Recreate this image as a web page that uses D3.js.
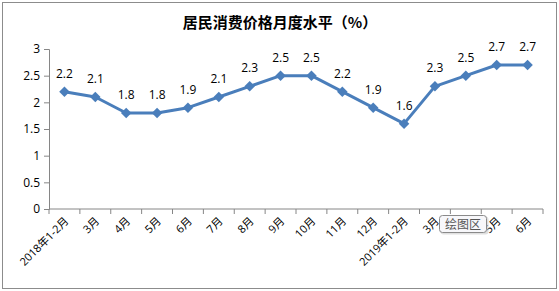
<!DOCTYPE html>
<html>
<head>
<meta charset="utf-8">
<script src="https://cdn.jsdelivr.net/npm/d3@7"></script>
<style>
  body { margin: 0; background: #fff; }
  text { font-family: "Open Sans", "Noto Sans CJK SC", sans-serif; }
</style>
</head>
<body>
<div id="chart"></div>
<script>
// data
var months = ["2018年1-2月", "3月", "4月", "5月", "6月", "7月", "8月", "9月", "10月",
              "11月", "12月", "2019年1-2月", "3月", "4月", "5月", "6月"];
var values = [2.2, 2.1, 1.8, 1.8, 1.9, 2.1, 2.3, 2.5, 2.5, 2.2, 1.9, 1.6, 2.3, 2.5, 2.7, 2.7];
var yTicks = [0, 0.5, 1, 1.5, 2, 2.5, 3];

var W = 559, H = 291;
var margin = {top: 49, right: 16, bottom: 82, left: 49},
    width = W - margin.left - margin.right,
    height = H - margin.top - margin.bottom;

var svg = d3.select("#chart").append("svg")
    .attr("width", W)
    .attr("height", H);

// outer frame
svg.append("rect")
    .attr("x", 2.5).attr("y", 2.5)
    .attr("width", W - 5).attr("height", H - 5)
    .attr("fill", "#fff")
    .attr("stroke", "#8c8c8c");

svg.append("text")
    .attr("x", 280).attr("y", 28)
    .attr("text-anchor", "middle")
    .style("font-family", "'Noto Sans CJK SC', sans-serif")
    .style("font-size", "15px")
    .style("font-weight", "bold")
    .text("居民消费价格月度水平（%）");

var g = svg.append("g")
    .attr("transform", "translate(" + margin.left + "," + margin.top + ")");

// index based band scale so repeated month names stay separate
var x = d3.scaleBand()
    .domain(d3.range(months.length))
    .range([0, width]);

var y = d3.scaleLinear()
    .domain([0, 3])
    .range([height, 0]);

// y axis
var yAxis = g.append("g")
    .call(d3.axisLeft(y).tickValues(yTicks).tickSize(5).tickPadding(4).tickFormat(d3.format("")));
yAxis.select(".domain").attr("stroke", "#868686");
yAxis.selectAll(".tick line").attr("stroke", "#868686");
yAxis.selectAll("text").style("font-size", "12px").attr("fill", "#000");

// x axis, ticks on band edges
var edges = d3.range(months.length + 1).map(function(i) { return i * x.bandwidth(); });
var xg = g.append("g").attr("transform", "translate(0," + height + ")");
xg.append("line")
    .attr("x1", 0).attr("x2", width)
    .attr("stroke", "#868686");
xg.selectAll("line.tk")
  .data(edges)
  .enter().append("line")
    .attr("class", "tk")
    .attr("x1", function(d) { return d; })
    .attr("x2", function(d) { return d; })
    .attr("y1", 0).attr("y2", 5)
    .attr("stroke", "#868686");
xg.selectAll("text")
  .data(months)
  .enter().append("text")
    .attr("transform", function(d, i) {
      return "translate(" + (x(i) + x.bandwidth() / 2 + 2) + ",10) rotate(-45)";
    })
    .attr("text-anchor", "end")
    .attr("dy", "0.35em")
    .style("font-size", "11px")
    .text(function(d) { return d; });

// line
var line = d3.line()
    .x(function(d, i) { return x(i) + x.bandwidth() / 2; })
    .y(function(d) { return y(d); });

g.append("path")
    .datum(values)
    .attr("fill", "none")
    .attr("stroke", "#4a7ebb")
    .attr("stroke-width", 3)
    .attr("stroke-linejoin", "round")
    .attr("d", line);

g.selectAll(".dot")
  .data(values)
  .enter().append("path")
    .attr("class", "dot")
    .attr("d", d3.symbol().type(d3.symbolDiamond2).size(70))
    .attr("transform", function(d, i) {
      return "translate(" + (x(i) + x.bandwidth() / 2) + "," + y(d) + ")";
    })
    .attr("fill", "#4a7ebb");

g.selectAll(".lbl")
  .data(values)
  .enter().append("text")
    .attr("class", "lbl")
    .attr("x", function(d, i) { return x(i) + x.bandwidth() / 2; })
    .attr("y", function(d) { return y(d) - 14; })
    .attr("text-anchor", "middle")
    .style("font-size", "12px")
    .text(function(d) { return d3.format(".1f")(d); });

// hover tooltip visible in the screenshot
var tip = svg.append("g").attr("transform", "translate(439,215)");
tip.append("rect")
    .attr("x", 1.5).attr("y", 1.5)
    .attr("width", 48).attr("height", 18)
    .attr("rx", 3)
    .attr("fill", "#ccc").attr("opacity", 0.6);
tip.append("rect")
    .attr("x", 0.5).attr("y", 0.5)
    .attr("width", 47).attr("height", 17)
    .attr("rx", 3)
    .attr("fill", "#f7f7fa")
    .attr("stroke", "#8a8a8a");
tip.append("text")
    .attr("x", 24).attr("y", 13.5)
    .attr("text-anchor", "middle")
    .style("font-family", "'Noto Sans CJK SC', sans-serif")
    .style("font-size", "12px")
    .attr("fill", "#555")
    .text("绘图区");
</script>
</body>
</html>
